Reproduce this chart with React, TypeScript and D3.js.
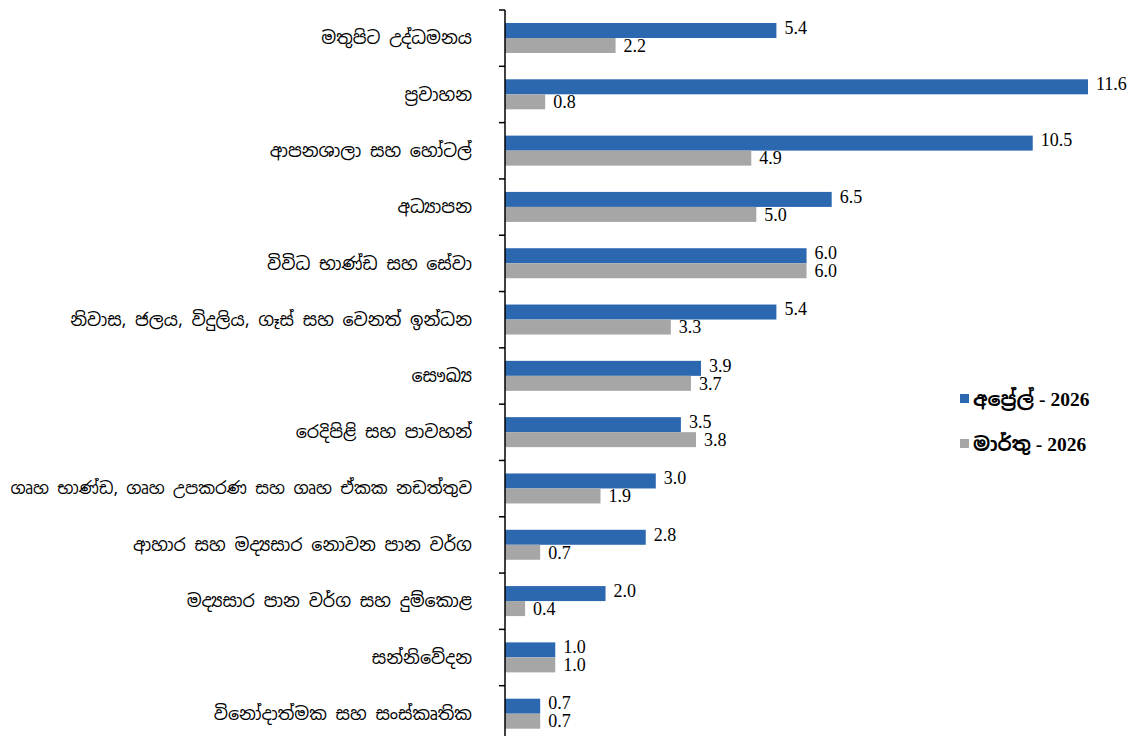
import { useEffect, useRef } from 'react';
import * as d3 from 'd3';

const categories = [
  'මතුපිට උද්ධමනය',
  'ප්‍රවාහන',
  'ආපනශාලා සහ හෝටල්',
  'අධ්‍යාපන',
  'විවිධ භාණ්ඩ සහ සේවා',
  'නිවාස, ජලය, විදුලිය, ගෑස් සහ වෙනත් ඉන්ධන',
  'සෞඛ්‍ය',
  'රෙදිපිළි සහ පාවහන්',
  'ගෘහ භාණ්ඩ, ගෘහ උපකරණ සහ ගෘහ ඒකක නඩත්තුව',
  'ආහාර සහ මද්‍යසාර නොවන පාන වර්ග',
  'මද්‍යසාර පාන වර්ග සහ දුම්කොළ',
  'සන්නිවේදන',
  'විනෝදාත්මක සහ සංස්කෘතික',
];

const april2026 = [5.4, 11.6, 10.5, 6.5, 6.0, 5.4, 3.9, 3.5, 3.0, 2.8, 2.0, 1.0, 0.7];
const march2026 = [2.2, 0.8, 4.9, 5.0, 6.0, 3.3, 3.7, 3.8, 1.9, 0.7, 0.4, 1.0, 0.7];

const seriesNames = ['අප්‍රේල් - 2026', 'මාර්තු - 2026'];
const seriesColors = ['#2b68b0', '#a6a6a6'];

const W = 1137;
const H = 736;
const sinhalaFont = '"Iskoola Pota", "Noto Sans Sinhala", "Noto Serif Sinhala", "Noto Sans", sans-serif';
const numFont = '"Liberation Serif", "Times New Roman", serif';

export default function App() {
  const svgRef = useRef<SVGSVGElement>(null);

  useEffect(() => {
    if (!svgRef.current) return;
    const svg = d3.select(svgRef.current);
    svg.selectAll('*').remove();

    const x = d3.scaleLinear().domain([0, 12]).range([505, 505 + 12 * 50.26]);
    const y = d3.scaleBand<string>().domain(categories).range([10, 742]).padding(0);
    const inner = d3.scaleBand<number>().domain([0, 1]).range([13, 43]).padding(0);

    const series = [april2026, march2026];

    const g = svg.append('g');

    series.forEach((vals, si) => {
      g.selectAll(`.bar-${si}`)
        .data(vals)
        .enter()
        .append('rect')
        .attr('x', x(0))
        .attr('y', (_, i) => (y(categories[i]) ?? 0) + (inner(si) ?? 0))
        .attr('width', d => x(d) - x(0))
        .attr('height', inner.bandwidth())
        .attr('fill', seriesColors[si]);

      g.selectAll(`.val-${si}`)
        .data(vals)
        .enter()
        .append('text')
        .attr('x', d => x(d) + 8)
        .attr('y', (_, i) => (y(categories[i]) ?? 0) + (inner(si) ?? 0) + inner.bandwidth() / 2 + (si === 0 ? -3 : 0))
        .attr('dy', '0.35em')
        .attr('font-family', numFont)
        .attr('font-size', 18)
        .attr('fill', '#000')
        .text(d => d.toFixed(1));
    });

    // axis line and ticks
    const [y0, y1] = y.range();
    g.append('line')
      .attr('x1', x(0)).attr('x2', x(0))
      .attr('y1', y0).attr('y2', y1)
      .attr('stroke', '#000').attr('stroke-width', 1.5);

    const bounds = categories.map(c => y(c) ?? 0).concat([y1]);
    g.selectAll('.tick')
      .data(bounds)
      .enter()
      .append('line')
      .attr('x1', x(0) - 6).attr('x2', x(0))
      .attr('y1', d => d).attr('y2', d => d)
      .attr('stroke', '#000').attr('stroke-width', 1.5);

    // category labels, shrunk if they would run past the left edge
    const labelRight = 472;
    const maxWidth = labelRight - 10;
    g.selectAll('.cat')
      .data(categories)
      .enter()
      .append('text')
      .attr('x', labelRight)
      .attr('y', d => (y(d) ?? 0) + y.bandwidth() / 2)
      .attr('dy', '0.35em')
      .attr('text-anchor', 'end')
      .attr('font-family', sinhalaFont)
      .attr('font-size', 17.5)
      .attr('fill', '#000')
      .text(d => d)
      .each(function () {
        const el = this as SVGTextElement;
        const w = el.getComputedTextLength();
        if (w > maxWidth) {
          el.setAttribute('font-size', String(17.5 * maxWidth / w));
        }
      });

    // legend
    const legend = g.append('g').attr('transform', 'translate(960, 399)');
    seriesNames.forEach((name, i) => {
      const row = legend.append('g').attr('transform', `translate(0, ${i * 45})`);
      row.append('rect')
        .attr('x', 0).attr('y', -5).attr('width', 9).attr('height', 9)
        .attr('fill', seriesColors[i]);
      const t = row.append('text')
        .attr('x', 13).attr('y', 0).attr('dy', '0.35em')
        .attr('font-size', 19.5)
        .attr('font-weight', 'bold')
        .attr('fill', '#000');
      const parts = name.split(' - ');
      t.append('tspan').attr('font-family', sinhalaFont).text(parts[0]);
      t.append('tspan').attr('font-family', numFont).text(' - ' + parts[1]);
    });
  }, []);

  return (
    <svg
      ref={svgRef}
      width={W}
      height={H}
      style={{ position: 'absolute', left: 0, top: 0, background: '#fff' }}
    />
  );
}
